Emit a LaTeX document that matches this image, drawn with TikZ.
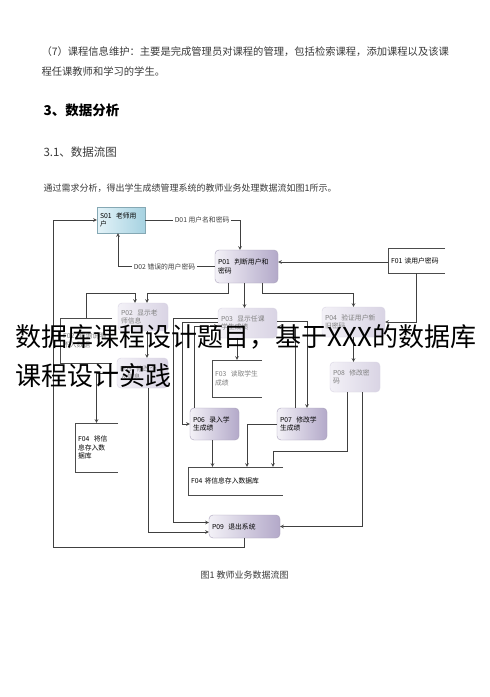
\documentclass[tikz,border=0pt]{standalone}
\usepackage{fontspec}
\setmainfont{Noto Sans CJK SC}
\usetikzlibrary{positioning}

\definecolor{userA}{HTML}{E4F3F8}
\definecolor{userB}{HTML}{A6D2E1}
\definecolor{procA}{HTML}{F3F1F7}
\definecolor{procB}{HTML}{B3A9C9}
\definecolor{fadeB}{HTML}{D9D4E4}
\definecolor{bodytext}{HTML}{3A3A3A}

\begin{document}
\begin{tikzpicture}[x=1pt, y=-1pt,
        user/.style={rectangle, draw=userB!80!black, left color=userA, right color=userB, inner sep=3pt, align=left, font=\fontsize{6.8}{8.4}\selectfont},
        proc/.style={rectangle, rounded corners=4pt, draw=procB!80!gray, left color=procA, right color=procB, inner sep=3pt, align=left, font=\fontsize{6.8}{8.4}\selectfont},
        procfade/.style={proc, draw=fadeB, right color=fadeB, text=gray},
        store/.style={rectangle, inner sep=3pt, align=left, font=\fontsize{6.8}{8.4}\selectfont},
        storeline/.style={black!70, line width=.6pt},
        arrow/.style={->, >=stealth, line width=.6pt, black!75},
        lbl/.style={fill=white, inner sep=1.5pt, font=\fontsize{6.8}{8.4}\selectfont},
        body/.style={anchor=west, text=bodytext}
    ]
    \useasboundingbox[fill=white] (0,0) rectangle (490,697);

    % page text
    \node[body, font=\fontsize{10.3}{12}\selectfont] (par1) at (38,52) {（7）课程信息维护：主要是完成管理员对课程的管理，包括检索课程，添加课程以及该课};
    \node[body, font=\fontsize{10.3}{12}\selectfont] (par2) at (38,72) {程任课教师和学习的学生。};
    \node[body, font=\fontsize{13.5}{16}\selectfont\bfseries, text=black] (sec3) at (40,110) {3、数据分析};
    \node[body, font=\fontsize{11.5}{14}\selectfont] (sec31) at (40,152) {3.1、数据流图};
    \node[body, font=\fontsize{9}{11}\selectfont] (intro) at (40,188) {通过需求分析，得出学生成绩管理系统的教师业务处理数据流如图1所示。};

    % processes and stores
    \node[user, text width=42, minimum height=26] (s01) at (121,220) {S01\ \ 老师用\\户};
    \node[proc, text width=57, minimum height=33] (p01) at (246.5,266.5) {P01\ \ 判断用户和\\密码};
    \node[store, text width=51, minimum height=25] (f01) at (416.5,260.5) {F01 读用户密码};
    \node[procfade, text width=44, minimum height=28] (p02) at (143,317) {P02\ \ 显示老\\师信息};
    \node[store, text width=46, minimum height=45, text=gray] (f02) at (86,340.5) {F02\ \ 查询说明\\不入数据};
    \node[procfade, text width=45, minimum height=30] (p05) at (142.5,373) {P05\ \ 修改个\\人信息};
    \node[procfade, text width=53, minimum height=30] (p03) at (247.5,323) {P03\ \ 显示任课\\学生成绩};
    \node[procfade, text width=57, minimum height=30] (p04) at (353.5,322) {P04\ \ 验证用户新\\旧密码};
    \node[store, text width=44, minimum height=37, text=gray] (f03) at (237,378.5) {F03\ \ 读取学生\\成绩};
    \node[procfade, text width=44, minimum height=30] (p08) at (355,377) {P08\ \ 修改密\\码};
    \node[store, text width=37, minimum height=49] (f04a) at (96.5,447.5) {F04\ \ 将信\\息存入数\\据库};
    \node[proc, text width=43, minimum height=32] (p06) at (214.5,424) {P06\ \ 录入学\\生成绩};
    \node[proc, text width=44, minimum height=32] (p07) at (302,424) {P07\ \ 修改学\\生成绩};
    \node[store, text width=89, minimum height=28] (f04b) at (235.5,481) {F04 将信息存入数据库};
    \node[proc, text width=65, minimum height=23] (p09) at (244.5,526.5) {P09\ \ 退出系统};

    \foreach \s in {f01,f02,f03,f04a,f04b}
        \draw[storeline] (\s.north east) -- (\s.north west) -- (\s.south west) -- (\s.south east);

    \coordinate (loop) at (53,547);

    % data flows
    \draw[arrow] (s01.east) -| node[lbl, pos=0.3] {D01 用户名和密码} ([xshift=-6.5]p01.north);
    \draw[arrow] (p01.west) -| node[lbl, pos=0.26] {D02 错误的用户密码} ([xshift=-3]s01.south);
    \draw[arrow] ([yshift=-1.5]f01.west) -- ([yshift=-1.5]f01.west -| p01.east);
    \draw[arrow] (f01.south) |- (p04.east);
    \draw[arrow] ([xshift=-18.5]p01.south) -- ++(0,10) -| ([xshift=4]p02.north);
    \draw[arrow] (f02.north) -- ++(0,-25) -| ([xshift=-8]p02.north);
    \draw[arrow] ([xshift=-2]p01.south) -- ([xshift=-2]p01.south |- p03.north);
    \draw[arrow] ([xshift=15.5]p01.south) -- ++(0,10) -| (p04.north);
    \draw[arrow] ([xshift=4]p02.south) -- ([xshift=4]p02.south |- p05.north);
    \draw[arrow] (p05.west) -| (f04a.north);
    \draw[arrow] ([xshift=5.5]p05.south) |- ([yshift=-5.5]p09.west);
    \draw[arrow] ([yshift=5]p03.west) -- ++(-45,0) |- ([yshift=4]p09.west);
    \draw[arrow] ([yshift=1]p03.west) -- ++(-36,0) |- (p06.west);
    \draw[arrow] ([xshift=-20.5]p06.north) |- ([yshift=-3]p03.west);
    \draw[arrow] ([yshift=2]p03.east) -| ([xshift=5]p07.north);
    \draw[arrow] ([xshift=-7]p07.north) |- ([yshift=-4]p03.east);
    \draw[arrow] (f03.north |- p03.south) -- (f03.north);
    \draw[arrow] (p04.south) -- (p04.south |- p08.north);
    \draw[arrow] ([xshift=-2]p06.south) -- ([xshift=-2]p06.south |- f04b.north);
    \draw[arrow] (p07.west) -| ([xshift=11.5]f04b.north);
    \draw[arrow] ([xshift=-8]p08.south) -- ++(0,59) -| ([xshift=37.5]f04b.north);
    \draw[arrow] ([xshift=7]p08.south) |- (p09.east);
    \draw[arrow] (p09.south) |- (loop) |- (s01.west);

    \node[anchor=west, font=\fontsize{9}{11}\selectfont, text=bodytext] (cap) at (197,575) {图1\ 教师业务数据流图};

    % overlay title
    \node[anchor=west, font=\fontsize{26}{30}\selectfont, text=black] (ttl1) at (12,337) {数据库课程设计题目，基于XXX的数据库};
    \node[anchor=west, font=\fontsize{26}{30}\selectfont, text=black] (ttl2) at (12,376) {课程设计实践};
\end{tikzpicture}
\end{document}
